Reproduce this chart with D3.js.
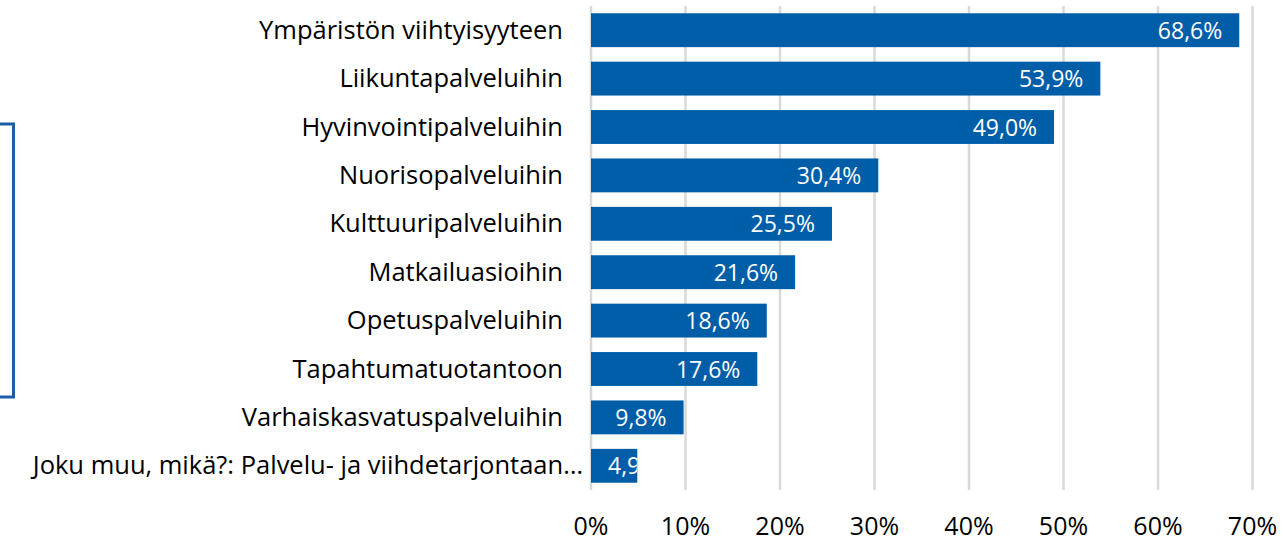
<!DOCTYPE html>
<html>
<head>
<meta charset="utf-8">
<script src="https://cdn.jsdelivr.net/npm/d3@7"></script>
<style>
  body { margin: 0; background: #fff; }
  svg { display: block; font-family: "Open Sans", sans-serif; }
</style>
</head>
<body>
<div id="container"></div>
<script>
/* DATA */
const categories = [
  "Ympäristön viihtyisyyteen",
  "Liikuntapalveluihin",
  "Hyvinvointipalveluihin",
  "Nuorisopalveluihin",
  "Kulttuuripalveluihin",
  "Matkailuasioihin",
  "Opetuspalveluihin",
  "Tapahtumatuotantoon",
  "Varhaiskasvatuspalveluihin",
  "Joku muu, mikä?: Palvelu- ja viihdetarjontaan…"
]
const values = [68.6, 53.9, 49.0, 30.4, 25.5, 21.6, 18.6, 17.6, 9.8, 4.9]
const ticks = [0, 10, 20, 30, 40, 50, 60, 70]

/* CONSTANTS */
const width = 1283,
  height = 541,
  margin = { top: 6, bottom: 51, left: 591, right: 30 }
const barColor = "#005ea8"
const fmt = v => v.toFixed(1).replace(".", ",") + "%"

const svg = d3.select("#container")
  .append("svg")
  .attr("width", width)
  .attr("height", height)

const x = d3.scaleLinear()
  .domain([0, 70])
  .range([margin.left, margin.left + 7 * 94.5])

const y = d3.scaleBand()
  .domain(categories)
  .range([margin.top, height - margin.bottom])
  .paddingInner(0.3)
  .paddingOuter(0.15)

// gridlines
svg.selectAll("line.grid")
  .data(ticks)
  .join("line")
  .attr("class", "grid")
  .attr("x1", d => x(d))
  .attr("x2", d => x(d))
  .attr("y1", margin.top)
  .attr("y2", height - margin.bottom)
  .attr("stroke", "#d9d9d9")
  .attr("stroke-width", 2.5)

// tick labels
svg.selectAll("text.tick")
  .data(ticks)
  .join("text")
  .attr("class", "tick")
  .attr("x", d => x(d))
  .attr("y", 535)
  .attr("text-anchor", "middle")
  .attr("font-size", 25)
  .attr("fill", "#000")
  .text(d => d + "%")

// bars
svg.selectAll("rect.bar")
  .data(values)
  .join("rect")
  .attr("class", "bar")
  .attr("x", x(0))
  .attr("y", (d, i) => y(categories[i]))
  .attr("width", d => x(d) - x(0))
  .attr("height", y.bandwidth())
  .attr("fill", barColor)

// clip paths so labels don't spill outside short bars
const defs = svg.append("defs")
defs.selectAll("clipPath")
  .data(values)
  .join("clipPath")
  .attr("id", (d, i) => "clip" + i)
  .append("rect")
  .attr("x", x(0))
  .attr("y", (d, i) => y(categories[i]))
  .attr("width", d => x(d) - x(0))
  .attr("height", y.bandwidth())

const valueLabels = svg.selectAll("text.value")
  .data(values)
  .join("text")
  .attr("class", "value")
  .attr("clip-path", (d, i) => `url(#clip${i})`)
  .attr("y", (d, i) => y(categories[i]) + y.bandwidth() / 2 + 8.5)
  .attr("font-size", 23)
  .attr("fill", "#fff")
  .text(d => fmt(d))

valueLabels.each(function(d) {
  const w = this.getComputedTextLength()
  const xs = Math.max(x(d) - 17 - w, x(0) + 17)
  d3.select(this).attr("x", xs)
})

// category labels
svg.selectAll("text.cat")
  .data(categories)
  .join("text")
  .attr("class", "cat")
  .attr("x", (d, i) => i === categories.length - 1 ? 583 : 563)
  .attr("y", d => y(d) + y.bandwidth() / 2 + 8.5)
  .attr("text-anchor", "end")
  .attr("font-size", 25.5)
  .attr("fill", "#000")
  .text(d => d)

// left bracket
svg.append("path")
  .attr("d", "M0,124 H13.5 V397 H0")
  .attr("fill", "none")
  .attr("stroke", "#1a5fa6")
  .attr("stroke-width", 3)
</script>
</body>
</html>
